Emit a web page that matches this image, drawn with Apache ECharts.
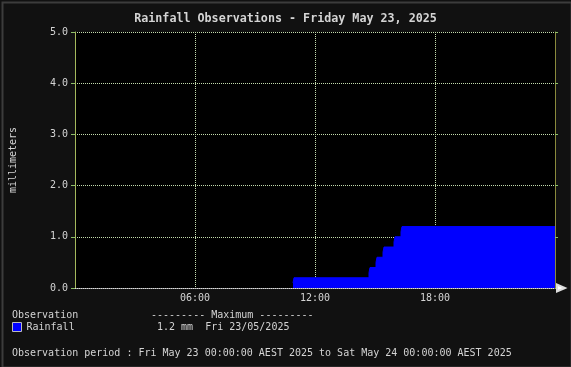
<!DOCTYPE html>
<html><head><meta charset="utf-8">
<script src="https://cdn.jsdelivr.net/npm/echarts@6/dist/echarts.min.js"></script>
<style>html,body{margin:0;padding:0;background:#111;}#c{width:571px;height:367px;}</style>
</head><body><div id="c"></div>
<script>
// Hours of the day at which the cumulative rainfall changed, and the value (mm) from then on
const hours  = [10.9, 10.95, 14.7, 14.75, 15.05, 15.1, 15.4, 15.45, 15.95, 16.0, 16.3, 16.35, 24];
const rainMm = [0.1, 0.2, 0.3, 0.4, 0.5, 0.6, 0.7, 0.8, 0.9, 1.0, 1.1, 1.2, 1.2];
const xTickLabels = {6: '06:00', 12: '12:00', 18: '18:00'};
const titleText = 'Rainfall Observations - Friday May 23, 2025';
const seriesName = 'Rainfall';
const maxText = '1.2 mm  Fri 23/05/2025';
const periodText = 'Observation period : Fri May 23 00:00:00 AEST 2025 to Sat May 24 00:00:00 AEST 2025';

const MONO = '"DejaVu Sans Mono", "Liberation Mono", monospace';
const txt = '#d4d4d4';
const grid = '#c4dcae';
const axisC = '#a4b85c';

const chart = echarts.init(document.getElementById('c'), null, {renderer: 'canvas'});
chart.setOption({
  backgroundColor: '#111',
  animation: false,
  title: {
    text: titleText, left: 'center', top: 8,
    textStyle: {color: txt, fontFamily: MONO, fontSize: 11.7, fontWeight: 'bold'}
  },
  grid: {left: 75, top: 32, width: 480, height: 256, show: true, backgroundColor: '#000', borderWidth: 0},
  legend: {
    data: [seriesName], left: 12, top: 322, padding: 0,
    icon: 'rect', itemWidth: 9, itemHeight: 9, itemGap: 5,
    textStyle: {color: txt, fontFamily: MONO, fontSize: 10},
    itemStyle: {borderColor: '#bbb', borderWidth: 1}
  },
  xAxis: {
    type: 'value', min: 0, max: 24, interval: 6,
    axisLine: {show: true, lineStyle: {color: '#ddd', type: 'dotted', width: 1}, symbol: ['none', 'emptyTriangle'], symbolSize: [7, 8], symbolOffset: [0, 6]},
    axisTick: {show: false},
    axisLabel: {color: txt, fontFamily: MONO, fontSize: 10, margin: 5,
      formatter: v => xTickLabels[v] || ''},
    splitLine: {show: true, lineStyle: {color: grid, type: 'dotted', width: 1}}
  },
  yAxis: [{
    type: 'value', min: 0, max: 5, interval: 1,
    name: 'millimeters', nameLocation: 'middle', nameGap: 57, nameRotate: 90,
    nameTextStyle: {color: txt, fontFamily: MONO, fontSize: 10},
    axisLine: {show: true, lineStyle: {color: axisC, width: 1}},
    axisTick: {show: true, length: 4, lineStyle: {color: '#8fbf6a'}},
    axisLabel: {color: txt, fontFamily: MONO, fontSize: 10, margin: 7, formatter: v => v.toFixed(1)},
    splitLine: {show: true, lineStyle: {color: grid, type: 'dotted', width: 1}}
  }, {
    type: 'value', min: 0, max: 5, interval: 1, position: 'right',
    axisLine: {show: true, lineStyle: {color: '#8a8a3c', width: 1}},
    axisTick: {show: true, length: 3, lineStyle: {color: '#8fbf6a'}},
    axisLabel: {show: false}, splitLine: {show: false}
  }],
  series: [{
    name: seriesName, type: 'line', step: 'end', showSymbol: false,
    data: hours.map((h, i) => [h, rainMm[i]]),
    itemStyle: {color: '#0000ff'},
    lineStyle: {color: '#0000ff', width: 1},
    areaStyle: {color: '#0000ff', opacity: 1},
    z: 1
  }],
  graphic: [
    {type: 'text', left: 12, top: 310, style: {text: 'Observation', fill: txt, font: '10px ' + MONO}},
    {type: 'text', left: 151, top: 310, style: {text: '--------- Maximum ---------', fill: txt, font: '10px ' + MONO}},
    {type: 'text', left: 157, top: 322, style: {text: maxText, fill: txt, font: '10px ' + MONO}},
    {type: 'text', left: 12, top: 348, style: {text: periodText, fill: txt, font: '10px ' + MONO}},
    {type: 'rect', left: 0, top: 0, shape: {x: 0, y: 0, width: 569, height: 365}, position: [1, 1],
      style: {fill: 'none', stroke: '#3c3c3c', lineWidth: 2}, z: 100}
  ]
});
</script></body></html>
